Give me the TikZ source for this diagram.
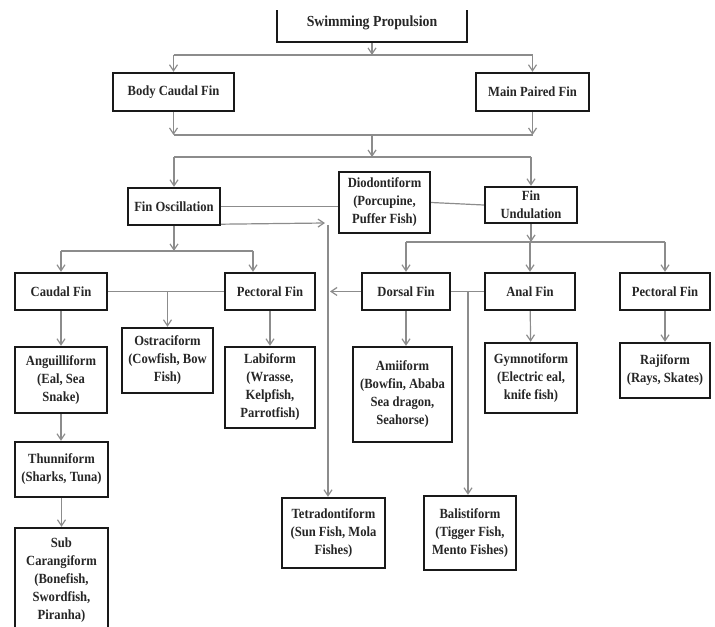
\documentclass[tikz,border=0pt]{standalone}
\usepackage{fontspec}
\setmainfont{Liberation Serif}[FakeStretch=0.9]
\usetikzlibrary{arrows.meta}

\begin{document}
\begin{tikzpicture}[x=0.75pt, y=-0.75pt,
  font={\fontsize{10.5pt}{13.5pt}\selectfont\bfseries},
  box/.style={draw=black!90, line width=1.8pt, fill=white, align=center,
    inner sep=0pt, text=black!85},
  fin/.style={box, minimum height=27.75pt},
  link/.style={draw=black!45, line width=0.9pt},
  arr/.style={link, arrows={-{Straight Barb[width=6,length=4.5]}}}
  ]
  \useasboundingbox (0,0) rectangle (715,627);

  % top level
  \begin{scope}
    \clip (0,11) rectangle (715,627);
    \node[box, minimum width=142.5pt, minimum height=28.5pt,
      font={\fontsize{11.5pt}{14pt}\selectfont\bfseries}] (prop) at (372,23) {Swimming Propulsion};
  \end{scope}
  \node[box, minimum width=90.75pt, minimum height=28.5pt] (bcf) at (173.5,92) {Body Caudal Fin};
  \node[box, minimum width=84.75pt, minimum height=28.5pt] (mpf) at (532.5,92) {Main Paired Fin};

  % second level
  \node[box, minimum width=69pt, minimum height=27.75pt] (fosc) at (174,206.5) {Fin Oscillation};
  \node[box, minimum width=68.25pt, minimum height=45.75pt] (diod) at (384.5,202.5) {Diodontiform\\(Porcupine,\\Puffer Fish)};
  \node[box, minimum width=69pt, minimum height=27pt] (fund) at (531,205) {Fin\\Undulation};

  % fins
  \node[fin, minimum width=69pt] (cfin) at (61,291.5) {Caudal Fin};
  \node[fin, minimum width=67.5pt] (pfinl) at (270,291.5) {Pectoral Fin};
  \node[fin, minimum width=66pt] (dfin) at (406,291.5) {Dorsal Fin};
  \node[fin, minimum width=67.5pt] (afin) at (530,291.5) {Anal Fin};
  \node[fin, minimum width=67.5pt] (pfinr) at (665,291.5) {Pectoral Fin};

  % forms
  \node[box, minimum width=68.25pt, minimum height=48.75pt] (ostr) at (167.5,360.5) {Ostraciform\\(Cowfish, Bow\\Fish)};
  \node[box, minimum width=69pt, minimum height=49.5pt] (angu) at (61,380) {Anguilliform\\(Eal, Sea\\Snake)};
  \node[box, minimum width=67.5pt, minimum height=60.75pt] (labi) at (270,387.5) {Labiform\\(Wrasse,\\Kelpfish,\\Parrotfish)};
  \node[box, minimum width=74.25pt, minimum height=71.25pt] (amii) at (402.5,394.5) {Amiiform\\(Bowfin, Ababa\\Sea dragon,\\Seahorse)};
  \node[box, minimum width=69pt, minimum height=52.5pt] (gymn) at (531,378) {Gymnotiform\\(Electric eal,\\knife fish)};
  \node[box, minimum width=67.5pt, minimum height=41.25pt] (raji) at (665,370.5) {Rajiform\\(Rays, Skates)};
  \node[box, minimum width=69.75pt, minimum height=41.25pt] (thun) at (61.5,469.5) {Thunniform\\(Sharks, Tuna)};
  \node[box, minimum width=69.75pt, minimum height=78pt] (subc) at (61.5,580) {Sub\\Carangiform\\(Bonefish,\\Swordfish,\\Piranha)};
  \node[box, minimum width=77.25pt, minimum height=52.5pt] (tetr) at (333.5,533) {Tetradontiform\\(Sun Fish, Mola\\Fishes)};
  \node[box, minimum width=69pt, minimum height=55.5pt] (bali) at (470,533) {Balistiform\\(Tigger Fish,\\Mento Fishes)};

  % links, top
  \coordinate (s0) at (372,55);
  \draw[arr] (prop) -- (s0);
  \draw[link] (bcf |- s0) -- (mpf |- s0);
  \draw[arr] (bcf |- s0) -- (bcf);
  \draw[arr] (mpf |- s0) -- (mpf);
  \coordinate (s1) at (372,135);
  \draw[arr] (bcf) -- (bcf |- s1);
  \draw[arr] (mpf) -- (mpf |- s1);
  \draw[link] (bcf |- s1) -- (mpf |- s1);
  \coordinate (s2) at (372,157);
  \draw[arr] (s1) -- (s2);
  \draw[link] (fosc |- s2) -- (fund |- s2);
  \draw[arr] (fosc |- s2) -- (fosc);
  \draw[arr] (fund |- s2) -- (fund);

  % diodontiform and tetradontiform
  \draw[link] (fosc.east) -- (fosc.east -| diod.west);
  \draw[link] (diod.east) -- (fund.west);
  \coordinate (tarr) at (325,223);
  \coordinate (tv) at (328,225);
  \draw[arr] ([yshift=1.5pt]fosc.south east) -- (tarr);
  \draw[arr] (tv) -- (tv |- tetr.north);

  % oscillation branch
  \coordinate (s3) at (173,251);
  \coordinate (s3r) at (253,251);
  \draw[arr] (fosc) -- (fosc |- s3);
  \draw[link] (cfin |- s3) -- (s3r);
  \draw[arr] (cfin |- s3) -- (cfin);
  \draw[arr] (s3r) -- (s3r |- pfinl.north);
  \draw[link] (cfin) -- (pfinl);
  \draw[arr] (ostr |- cfin.east) -- (ostr);
  \draw[arr] (cfin) -- (angu);
  \draw[arr] (angu.south) -- (angu.south |- thun.north);
  \draw[arr] (thun.south) -- (thun.south |- subc.north);
  \draw[arr] (pfinl) -- (labi);

  % undulation branch
  \coordinate (s4) at (530,242);
  \draw[arr] (fund) -- (fund |- s4);
  \draw[link] (dfin |- s4) -- (pfinr |- s4);
  \draw[arr] (dfin |- s4) -- (dfin);
  \draw[arr] (afin |- s4) -- (afin);
  \draw[arr] (pfinr |- s4) -- (pfinr);
  \coordinate (darr) at (330,291.5);
  \draw[arr] (dfin) -- (darr);
  \draw[link] (dfin) -- (afin);
  \coordinate (bv) at (468,291.5);
  \draw[arr] (bv) -- (bv |- bali.north);
  \draw[arr] (dfin.south) -- (dfin.south |- amii.north);
  \draw[arr] (afin) -- (gymn);
  \draw[arr] (pfinr) -- (raji);
\end{tikzpicture}
\end{document}
